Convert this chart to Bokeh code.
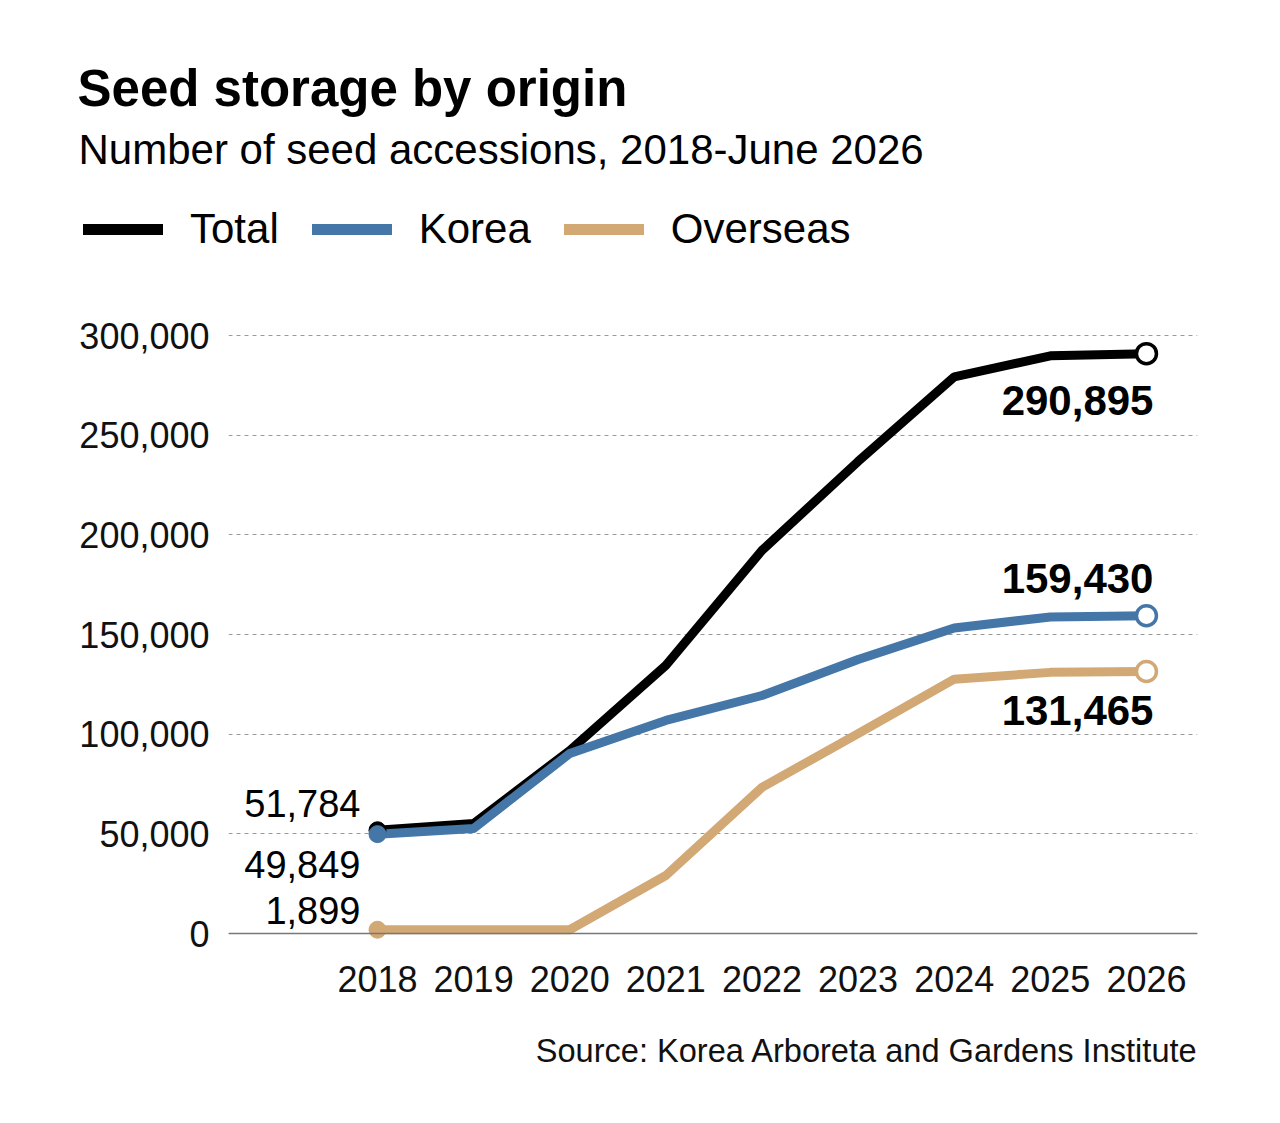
from bokeh.plotting import figure
from bokeh.layouts import column
from bokeh.models import (Range1d, FixedTicker, NumeralTickFormatter, Label, Span,
                          Legend, LegendItem, ColumnDataSource)
from bokeh.embed import file_html
from bokeh.resources import INLINE

years = [2018, 2019, 2020, 2021, 2022, 2023, 2024, 2025, 2026]
total = [51784, 55200, 91800, 134500, 192200, 236800, 279200, 289800, 290895]
korea = [49849, 52700, 90300, 106900, 119400, 137500, 153300, 158800, 159430]
overseas = [1899, 1900, 1900, 29100, 73300, 100300, 127600, 131000, 131465]
y_ticks = [0, 50000, 100000, 150000, 200000, 250000, 300000]
series_names = ["Total", "Korea", "Overseas"]

FONT = "Liberation Sans"
BLACK = "#000000"
BLUE = "#4477a8"
TAN = "#d2a874"
W = 1272


def blank(fig):
    fig.outline_line_color = None
    fig.background_fill_color = "white"
    fig.border_fill_color = "white"
    fig.axis.visible = False
    fig.grid.visible = False


# ---------------- header (title, subtitle, legend) ----------------
hdr = figure(width=W, height=300, x_range=Range1d(0, 1), y_range=Range1d(0, 1),
             output_backend="svg", toolbar_location=None, frame_align=False,
             min_border_left=0, min_border_right=0, min_border_top=0, min_border_bottom=0)
blank(hdr)
hdr.add_layout(Label(x=77, y=212, x_units="screen", y_units="screen",
                     text="Seed storage by origin", text_font=FONT, text_font_size="51px",
                     text_font_style="bold", text_baseline="middle", text_align="left",
                     text_color="#000000"))
hdr.add_layout(Label(x=78, y=151, x_units="screen", y_units="screen",
                     text="Number of seed accessions, 2018-June 2026", text_font=FONT,
                     text_font_size="42px", text_baseline="middle", text_align="left",
                     text_color="#000000"))
# legend swatches: the real series drawn off-range in the header (only their legend glyphs show)
lr_t = hdr.line(years, total, line_color=BLACK, line_width=11, line_cap="round")
lr_k = hdr.line(years, korea, line_color=BLUE, line_width=11, line_cap="round")
lr_o = hdr.line(years, overseas, line_color=TAN, line_width=11, line_cap="round")
legend = Legend(items=[LegendItem(label=series_names[0], renderers=[lr_t]),
                       LegendItem(label=series_names[1], renderers=[lr_k]),
                       LegendItem(label=series_names[2], renderers=[lr_o])],
                location=(83, 47), orientation="horizontal",
                glyph_width=80, glyph_height=48, label_height=48,
                label_standoff=27, spacing=33, padding=0, margin=0,
                border_line_color=None, background_fill_alpha=0,
                label_text_font=FONT, label_text_font_size="42px",
                label_text_color="#000000", label_text_baseline="middle")
hdr.add_layout(legend)

# ---------------- main chart ----------------
p = figure(width=W, height=710,
           x_range=Range1d(2016.45, 2026.531), y_range=Range1d(-8528, 317559),
           output_backend="svg", toolbar_location=None, frame_align=False,
           min_border_left=228, min_border_right=75,
           min_border_top=0, min_border_bottom=60)
p.outline_line_color = None
p.background_fill_color = "white"
p.border_fill_color = "white"

p.xaxis.ticker = FixedTicker(ticks=years)
p.xaxis.axis_line_color = None
p.xaxis.major_tick_line_color = None
p.xaxis.minor_tick_line_color = None
p.xaxis.major_label_standoff = 9
p.xaxis.major_label_text_font = FONT
p.xaxis.major_label_text_font_size = "36px"
p.xaxis.major_label_text_color = "#111111"

p.yaxis.ticker = FixedTicker(ticks=y_ticks)
p.yaxis.formatter = NumeralTickFormatter(format="0,0")
p.yaxis.axis_line_color = None
p.yaxis.major_tick_line_color = None
p.yaxis.minor_tick_line_color = None
p.yaxis.major_label_standoff = 13
p.yaxis.major_label_text_font = FONT
p.yaxis.major_label_text_font_size = "36px"
p.yaxis.major_label_text_color = "#111111"

p.xgrid.grid_line_color = None
p.ygrid.grid_line_color = "#9a9a9a"
p.ygrid.grid_line_width = 1
p.ygrid.grid_line_dash = "4 4"

p.add_layout(Span(location=0, dimension="width", line_color="#777777", line_width=1.5))

p.line(years, overseas, line_color=TAN, line_width=9, line_join="round")
p.line(years, total, line_color=BLACK, line_width=9, line_join="round")
p.line(years, korea, line_color=BLUE, line_width=9, line_join="round")

start = ColumnDataSource(dict(x=[years[0]] * 3, y=[overseas[0], total[0], korea[0]],
                              c=[TAN, BLACK, BLUE]))
p.scatter("x", "y", source=start, size=17, fill_color="c", line_color="c")

end = ColumnDataSource(dict(x=[years[-1]] * 3, y=[overseas[-1], total[-1], korea[-1]],
                            c=[TAN, BLACK, BLUE]))
p.scatter("x", "y", source=end, size=20, fill_color="white", line_color="c", line_width=3.5)


def vlabel(x, y, txt, xo, yo, bold):
    p.add_layout(Label(x=x, y=y, text=txt, x_offset=xo, y_offset=yo,
                       text_align="right", text_baseline="middle",
                       text_font=FONT, text_font_size="42px" if bold else "38px",
                       text_font_style="bold" if bold else "normal",
                       text_color="#000000"))


vlabel(years[-1], total[-1], f"{total[-1]:,}", 7, -47, True)
vlabel(years[-1], korea[-1], f"{korea[-1]:,}", 7, 37, True)
vlabel(years[-1], overseas[-1], f"{overseas[-1]:,}", 7, -39, True)
vlabel(years[0], total[0], f"{total[0]:,}", -17, 27, False)
vlabel(years[0], korea[0], f"{korea[0]:,}", -17, -30, False)
vlabel(years[0], overseas[0], f"{overseas[0]:,}", -17, 19, False)

# ---------------- footer (source) ----------------
ftr = figure(width=W, height=90, x_range=Range1d(0, 1), y_range=Range1d(0, 1),
             output_backend="svg", toolbar_location=None, frame_align=False,
             min_border_left=0, min_border_right=0, min_border_top=0, min_border_bottom=0)
blank(ftr)
ftr.add_layout(Label(x=1198, y=50, x_units="screen", y_units="screen",
                     text="Source: Korea Arboreta and Gardens Institute", text_font=FONT,
                     text_font_size="32.6px", text_baseline="middle", text_align="right",
                     text_color="#111111"))

layout = column(hdr, p, ftr, spacing=0)
open("out.html", "w").write(file_html(layout, INLINE))
